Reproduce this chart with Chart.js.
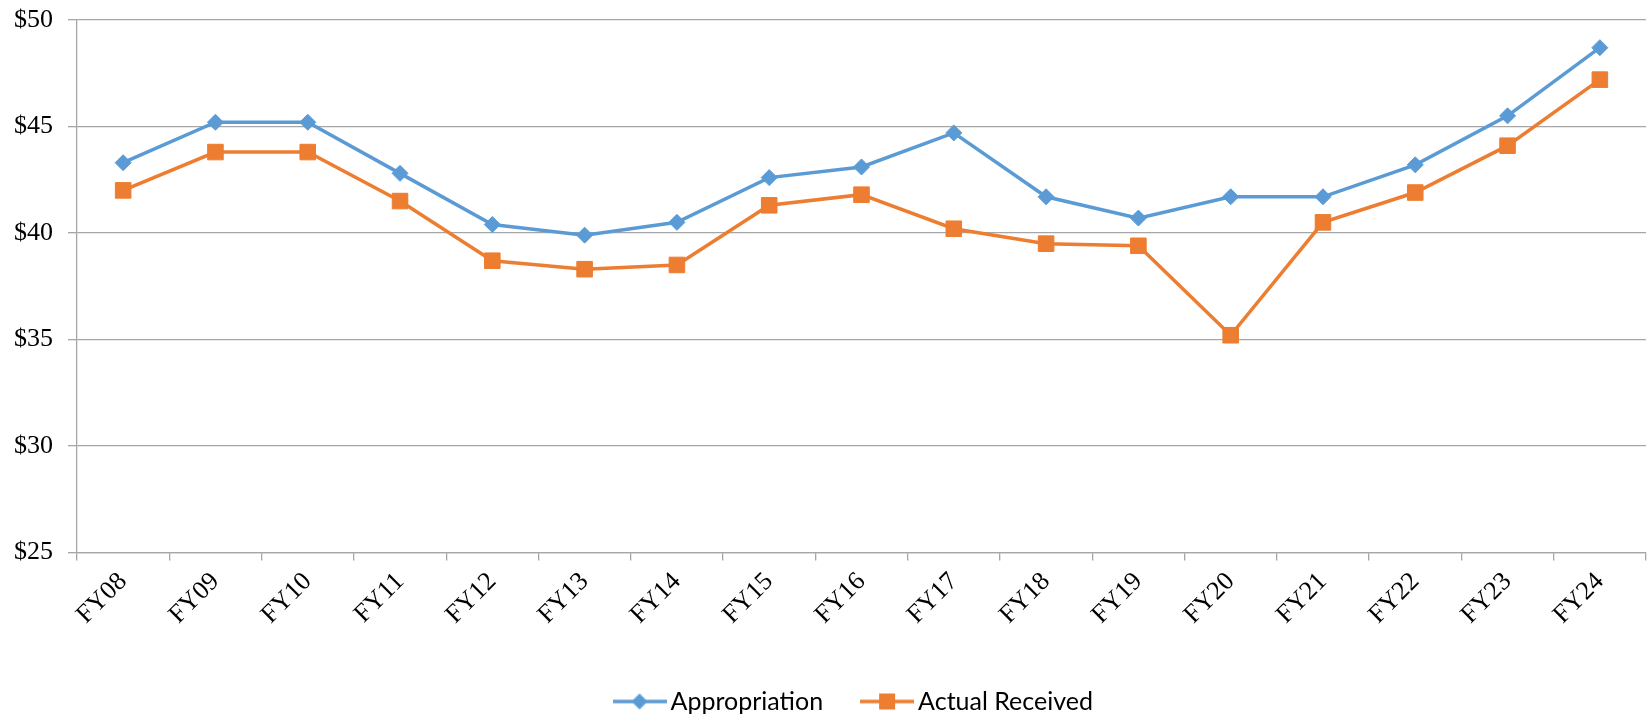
<!DOCTYPE html>
<html>
<head>
<meta charset="utf-8">
<script src="https://cdn.jsdelivr.net/npm/chart.js@4.4.1/dist/chart.umd.min.js"></script>
<style>
  html, body { margin: 0; padding: 0; background: #fff; overflow: hidden; }
  #wrap { width: 1648px; height: 717px; position: relative; }
  canvas { display: block; }
</style>
</head>
<body>
<div id="wrap"><canvas id="chart"></canvas></div>
<script>
const years = ['FY08', 'FY09', 'FY10', 'FY11', 'FY12', 'FY13', 'FY14', 'FY15', 'FY16',
               'FY17', 'FY18', 'FY19', 'FY20', 'FY21', 'FY22', 'FY23', 'FY24'];
const appropriation = [43.3, 45.2, 45.2, 42.8, 40.4, 39.9, 40.5, 42.6, 43.1,
                       44.7, 41.7, 40.7, 41.7, 41.7, 43.2, 45.5, 48.7];
const actualReceived = [42.0, 43.8, 43.8, 41.5, 38.7, 38.3, 38.5, 41.3, 41.8,
                        40.2, 39.5, 39.4, 35.2, 40.5, 41.9, 44.1, 47.2];
const yMin = 25, yMax = 50, yStep = 5;

const blue = '#5B9BD5';
const orange = '#ED7D31';
const gridColor = '#a6a6a6';

// legend icons: short line with the marker in the middle
function legendIcon(color, shape) {
    const c = document.createElement('canvas');
    c.width = 54; c.height = 20;
    const g = c.getContext('2d');
    g.strokeStyle = color;
    g.lineWidth = 3.5;
    g.beginPath(); g.moveTo(0, 10); g.lineTo(54, 10); g.stroke();
    g.fillStyle = color;
    g.beginPath();
    if (shape === 'diamond') {
        g.moveTo(27, 2); g.lineTo(35, 10); g.lineTo(27, 18); g.lineTo(19, 10);
    } else {
        g.rect(19, 2, 16, 16);
    }
    g.closePath(); g.fill();
    return c;
}
const icons = [legendIcon(blue, 'diamond'), legendIcon(orange, 'square')];

// nudge the legend a little right and down, like the original
const legendShift = {
    id: 'legendShift',
    afterLayout(chart) {
        const l = chart.legend;
        l.left += 34; l.right += 34;
        l.top += 7; l.bottom += 7;
    }
};

new Chart(document.getElementById('chart'), {
    type: 'line',
    data: {
        labels: years,
        datasets: [{
            label: 'Appropriation',
            data: appropriation,
            borderColor: blue,
            backgroundColor: blue,
            borderWidth: 3.5,
            pointStyle: 'rectRot',
            pointRadius: 8,
            pointHoverRadius: 8,
            pointBorderWidth: 1,
            tension: 0
        }, {
            label: 'Actual Received',
            data: actualReceived,
            borderColor: orange,
            backgroundColor: orange,
            borderWidth: 3.5,
            pointStyle: 'rect',
            pointRadius: 11,
            pointHoverRadius: 11,
            pointBorderWidth: 1,
            tension: 0
        }]
    },
    plugins: [legendShift],
    options: {
        responsive: true,
        maintainAspectRatio: false,
        animation: false,
        layout: { autoPadding: false, padding: { left: 0, right: 2, top: 20, bottom: 0 } },
        plugins: {
            tooltip: { enabled: false },
            legend: {
                position: 'bottom',
                labels: {
                    usePointStyle: true,
                    pointStyleWidth: 37,
                    padding: 45.5,
                    color: '#000',
                    font: { family: 'Lato', size: 25 },
                    generateLabels(chart) {
                        const items = Chart.defaults.plugins.legend.labels.generateLabels(chart);
                        items.forEach((it, i) => { it.pointStyle = icons[i]; });
                        return items;
                    }
                }
            }
        },
        scales: {
            x: {
                offset: true,
                grid: { offset: true, drawOnChartArea: false, color: gridColor, lineWidth: 1.3, tickLength: 8 },
                border: { color: gridColor, width: 1.3 },
                ticks: {
                    color: '#000',
                    minRotation: 45, maxRotation: 45,
                    padding: 6,
                    font: { family: 'Liberation Serif', size: 26 }
                },
                afterFit(s) { s.height = 84; s.paddingLeft = 0; s.paddingRight = 0; }
            },
            y: {
                min: yMin, max: yMax,
                grid: { color: gridColor, lineWidth: 1.3, tickLength: 9 },
                border: { color: gridColor, width: 1.3 },
                ticks: {
                    stepSize: yStep,
                    color: '#000',
                    padding: 15,
                    font: { family: 'Liberation Serif', size: 26 },
                    callback: v => '$' + v
                },
                afterFit(s) { s.width = 77; s.paddingTop = 0; s.paddingBottom = 0; }
            }
        }
    }
});
</script>
</body>
</html>
